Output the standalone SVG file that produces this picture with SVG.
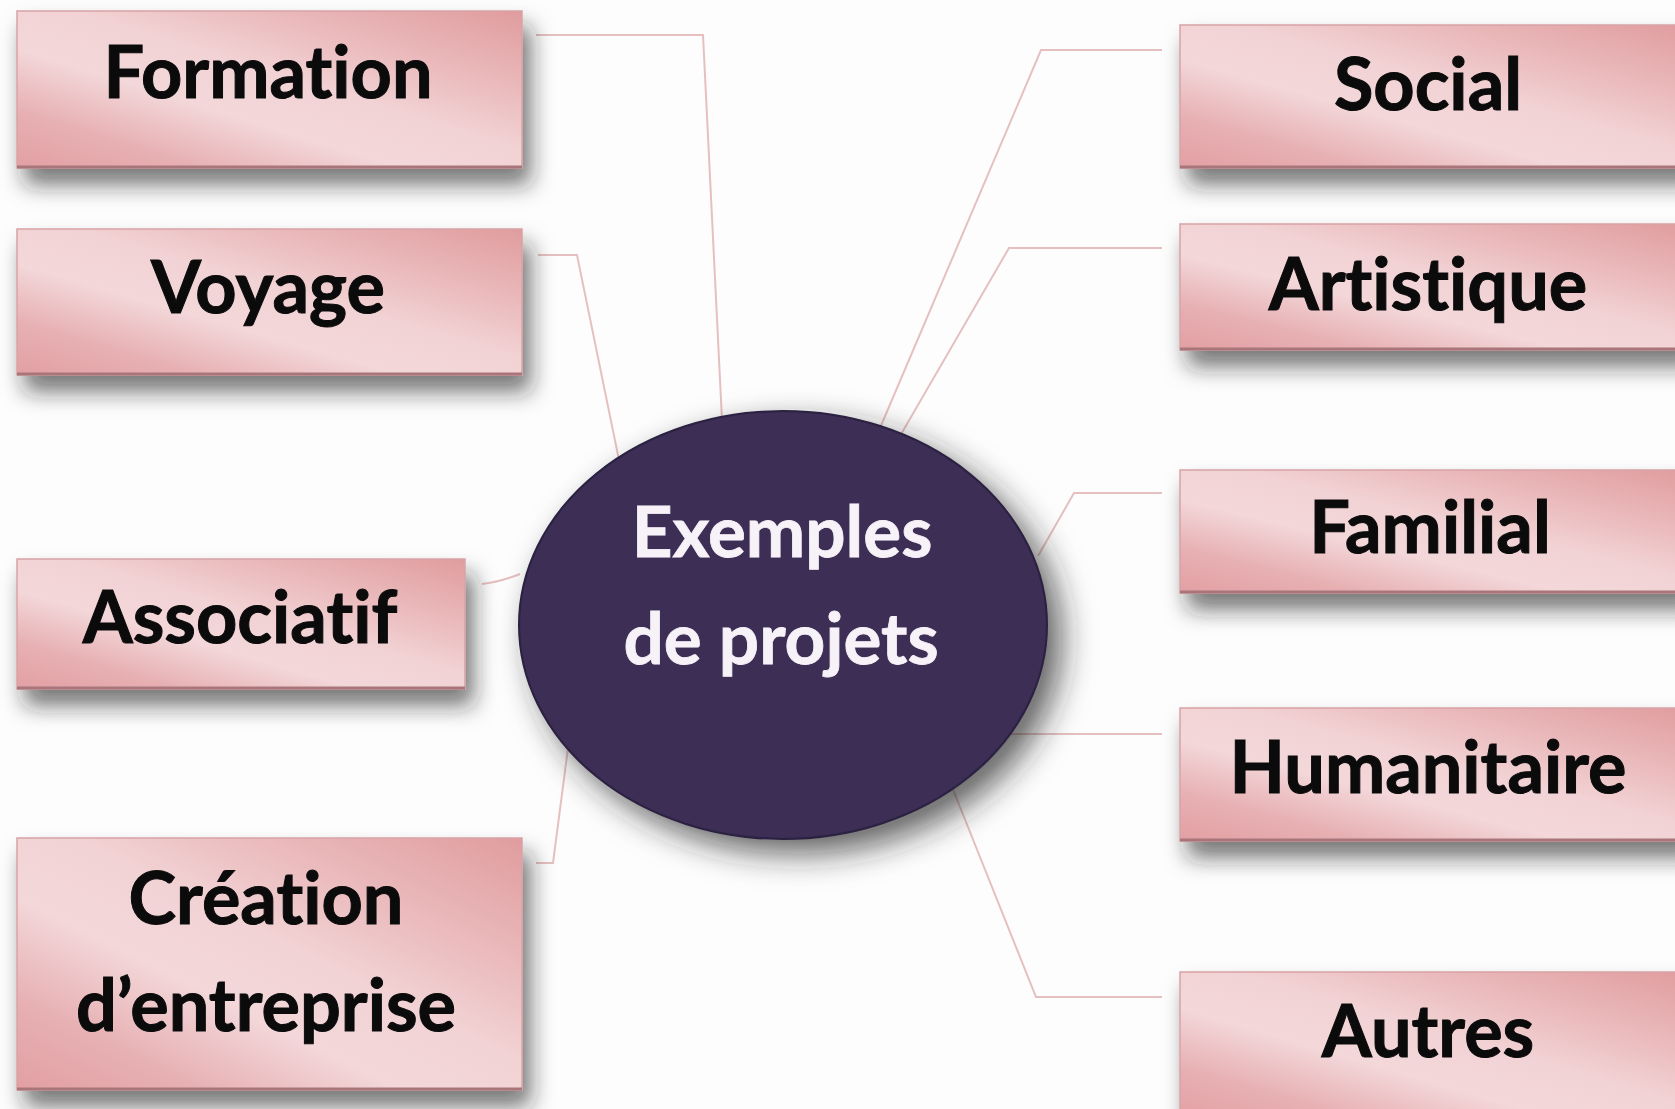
<svg xmlns="http://www.w3.org/2000/svg" width="1675" height="1109" viewBox="0 0 1675 1109">
  <style>
    .box { fill: url(#pinkGrad); stroke: #d8a2a5; stroke-width: 1.5; filter: url(#boxShadow); }
    .edge { stroke: #a8767a; stroke-width: 3; }
    .label { font-family: Lato, "Open Sans", "Liberation Sans", sans-serif; font-weight: bold; font-size: 72px; fill: #0b0b0b; stroke: #0b0b0b; stroke-width: 1; text-anchor: middle; font-variant-ligatures: none; font-feature-settings: "liga" 0, "clig" 0; }
    .center-label { font-family: Lato, "Open Sans", "Liberation Sans", sans-serif; font-weight: bold; font-size: 71px; fill: #f7f2f8; stroke: #f7f2f8; stroke-width: 0.8; text-anchor: middle; font-variant-ligatures: none; font-feature-settings: "liga" 0, "clig" 0; }
    .link { fill: none; stroke: #e6c0c1; stroke-width: 2; }
  </style>
  <defs>
    <linearGradient id="pinkGrad" x1="0" y1="1" x2="1" y2="0">
      <stop offset="0" stop-color="#e29fa3"/>
      <stop offset="0.18" stop-color="#e7b0b3"/>
      <stop offset="0.38" stop-color="#f3d7d9"/>
      <stop offset="0.55" stop-color="#f2d3d5"/>
      <stop offset="0.75" stop-color="#eab9bb"/>
      <stop offset="1" stop-color="#e09c9e"/>
    </linearGradient>
    <filter id="boxShadow" x="-10%" y="-25%" width="130%" height="175%">
      <feDropShadow dx="8" dy="16" stdDeviation="11" flood-color="#222" flood-opacity="0.6"/>
    </filter>
    <filter id="hubShadow" x="-25%" y="-25%" width="155%" height="155%">
      <feDropShadow dx="14" dy="14" stdDeviation="16" flood-color="#222" flood-opacity="0.7"/>
    </filter>
  </defs>

  <rect width="1675" height="1109" fill="#fdfdfd"/>

  <!-- connectors from the hub to each category -->
  <g id="connectors">
    <polyline class="link" points="536,35 703,35 722,420"/>
    <polyline class="link" points="538,255 577,255 619,460"/>
    <path class="link" d="M482,584 Q500,582 520,574"/>
    <polyline class="link" points="536,863 553,863 568,748"/>
    <polyline class="link" points="1162,50 1041,50 880,428"/>
    <polyline class="link" points="1162,248 1009,248 900,436"/>
    <polyline class="link" points="1162,493 1074,493 1038,556"/>
    <polyline class="link" points="1162,734 1000,734"/>
    <polyline class="link" points="1162,997 1036,997 950,782"/>
  </g>

  <!-- left column -->
  <g id="formation">
    <rect class="box" x="17" y="11" width="505" height="157"/>
    <line class="edge" x1="17" y1="167" x2="522" y2="167"/>
    <text class="label" x="268" y="98">Formation</text>
  </g>
  <g id="voyage">
    <rect class="box" x="17" y="229" width="505" height="146"/>
    <line class="edge" x1="17" y1="374" x2="522" y2="374"/>
    <text class="label" x="268" y="313">Voyage</text>
  </g>
  <g id="associatif">
    <rect class="box" x="17" y="559" width="448" height="130"/>
    <line class="edge" x1="17" y1="688" x2="465" y2="688"/>
    <text class="label" x="240" y="643">Associatif</text>
  </g>
  <g id="creation">
    <rect class="box" x="17" y="838" width="505" height="252"/>
    <line class="edge" x1="17" y1="1089" x2="522" y2="1089"/>
    <text class="label" x="266" y="924">Création</text>
    <text class="label" x="266" y="1031">d’entreprise</text>
  </g>

  <!-- right column -->
  <g id="social">
    <rect class="box" x="1180" y="25" width="510" height="143"/>
    <line class="edge" x1="1180" y1="167" x2="1690" y2="167"/>
    <text class="label" x="1428" y="110">Social</text>
  </g>
  <g id="artistique">
    <rect class="box" x="1180" y="224" width="510" height="126"/>
    <line class="edge" x1="1180" y1="349" x2="1690" y2="349"/>
    <text class="label" x="1428" y="310">Artistique</text>
  </g>
  <g id="familial">
    <rect class="box" x="1180" y="470" width="510" height="123"/>
    <line class="edge" x1="1180" y1="592" x2="1690" y2="592"/>
    <text class="label" x="1430" y="553">Familial</text>
  </g>
  <g id="humanitaire">
    <rect class="box" x="1180" y="708" width="510" height="133"/>
    <line class="edge" x1="1180" y1="840" x2="1690" y2="840"/>
    <text class="label" x="1428" y="793">Humanitaire</text>
  </g>
  <g id="autres">
    <rect class="box" x="1180" y="972" width="510" height="150"/>
    <text class="label" x="1428" y="1057">Autres</text>
  </g>

  <!-- central hub -->
  <g id="hub">
    <ellipse cx="783" cy="625" rx="264" ry="214" fill="#3c2d54" stroke="#2b2040" stroke-width="2" filter="url(#hubShadow)"/>
    <text class="center-label" x="782" y="557">Exemples</text>
    <text class="center-label" x="781" y="664">de projets</text>
  </g>
</svg>
